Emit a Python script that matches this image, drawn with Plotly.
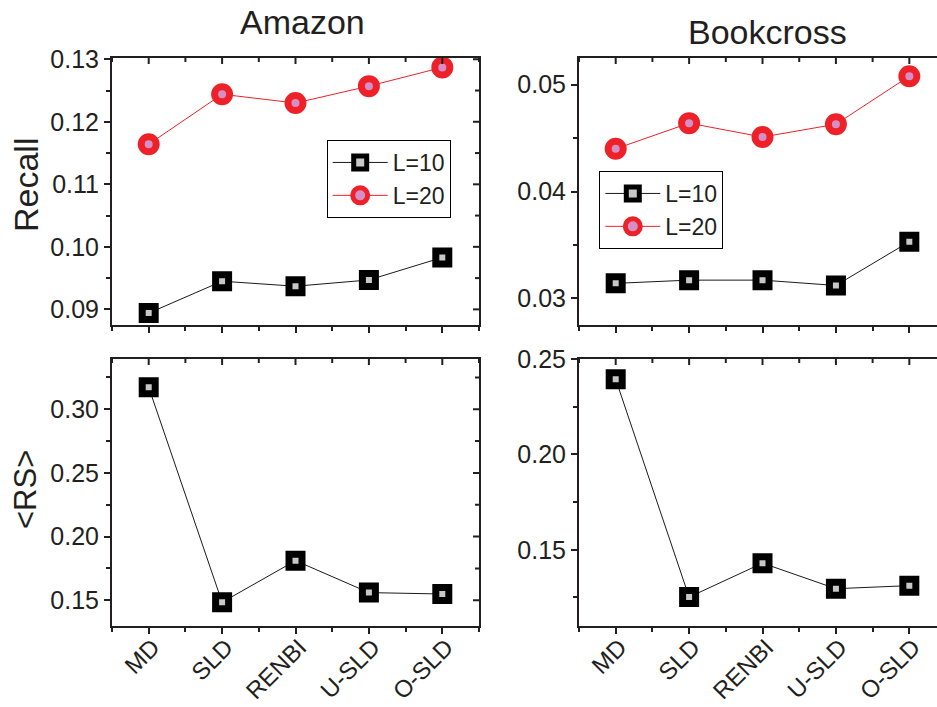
import plotly.graph_objects as go

# ---------------- data ----------------
methods = ["MD", "SLD", "RENBI", "U-SLD", "O-SLD"]
amazon_recall_L10 = [0.0894, 0.0945, 0.0937, 0.0947, 0.0983]
amazon_recall_L20 = [0.1164, 0.1244, 0.1230, 0.1257, 0.1287]
book_recall_L10 = [0.0314, 0.0317, 0.0317, 0.0312, 0.0353]
book_recall_L20 = [0.0440, 0.0464, 0.0451, 0.0463, 0.0508]
amazon_rs_L10 = [0.3173, 0.1484, 0.1811, 0.1560, 0.1549]
book_rs_L10 = [0.2394, 0.1252, 0.1430, 0.1296, 0.1312]
series_names = ["L=10", "L=20"]
panel_titles = ["Amazon", "Bookcross"]
row_titles = ["Recall", "&lt;RS&gt;"]

x_idx = list(range(len(methods)))

# ---------------- style ----------------
W, H = 937, 707
FONT = "Liberation Sans, Arial, Helvetica, sans-serif"
AX = "#231f20"
BLACK_LINE = "#1a1a1a"
RED = "#ee2128"
sq_marker = dict(symbol="square", size=13, color="#c8c8c8", line=dict(color="black", width=7))
ci_marker = dict(symbol="circle", size=15, color="#d58fc6", line=dict(color=RED, width=7))

def px_x(a, b):
    return [a / W, min(b / W, 1.0)]

def px_y(top, bottom):
    return [1 - bottom / H, 1 - top / H]

left_dom = px_x(112, 479)
right_dom = px_x(579, 937)
top_dom = px_y(58, 325)
bot_dom = px_y(359, 625.7)

fig = go.Figure()

def add_series(xa, ya, y, marker, color, name, legend, showlegend):
    fig.add_trace(go.Scatter(
        x=x_idx, y=y, xaxis=xa, yaxis=ya, mode="lines+markers",
        line=dict(color=color, width=1), marker=marker, name=name,
        legend=legend, showlegend=showlegend))

add_series("x", "y", amazon_recall_L10, sq_marker, BLACK_LINE, series_names[0], "legend", True)
add_series("x", "y", amazon_recall_L20, ci_marker, RED, series_names[1], "legend", True)
add_series("x2", "y2", book_recall_L10, sq_marker, BLACK_LINE, series_names[0], "legend2", True)
add_series("x2", "y2", book_recall_L20, ci_marker, RED, series_names[1], "legend2", True)
add_series("x3", "y3", amazon_rs_L10, sq_marker, BLACK_LINE, series_names[0], "legend", False)
add_series("x4", "y4", book_rs_L10, sq_marker, BLACK_LINE, series_names[0], "legend", False)

tickfont = dict(family=FONT, size=25, color=AX)
xtickfont = dict(family=FONT, size=24, color=AX)

def common():
    return dict(showgrid=False, zeroline=False, showline=True, linewidth=2, linecolor=AX,
                ticks="outside", ticklen=6, tickwidth=2, tickcolor=AX,
                automargin=False, fixedrange=True)

def x_main(domain, anchor, rng, labels):
    d = common()
    d.update(domain=domain, anchor=anchor, range=rng, tickmode="array", tickvals=x_idx,
             ticktext=methods, showticklabels=labels, tickangle=-45, tickfont=xtickfont,
             ticklabelstandoff=-10, ticklabelshift=4, mirror=True,
             minor=dict(ticks="outside", ticklen=4, tickwidth=2, tickcolor=AX, tick0=0, dtick=0.5))
    return d

def y_main(domain, anchor, rng, dtick, mdtick, mirror=True):
    d = common()
    d.update(domain=domain, anchor=anchor, range=rng, tick0=0, dtick=dtick, tickformat=".2f",
             tickfont=tickfont, mirror=mirror,
             minor=dict(ticks="outside", ticklen=4, tickwidth=2, tickcolor=AX, tick0=0, dtick=mdtick))
    return d

xr_full = [-0.5, 4.5]
xr_clip = [-0.5, 4.377]
yr_a_rec = [0.0875, 0.1302]
yr_b_rec = [0.0275, 0.0525]
yr_a_rs = [0.13, 0.3395]
yr_b_rs = [0.1102, 0.25]

legend_common = dict(xanchor="left", yanchor="top", bordercolor="black", borderwidth=1,
                     bgcolor="white", font=dict(family=FONT, size=23, color=AX), itemwidth=55,
                     tracegroupgap=0, itemsizing="trace")

layout = dict(
    template="none",
    width=W, height=H, margin=dict(l=0, r=0, t=0, b=0, pad=0, autoexpand=False),
    paper_bgcolor="white", plot_bgcolor="white",
    font=dict(family=FONT, color=AX),
    hovermode=False,
    xaxis=x_main(left_dom, "y", xr_full, False),
    yaxis=y_main(top_dom, "x", yr_a_rec, 0.01, 0.005),
    xaxis2=x_main(right_dom, "y2", xr_clip, False),
    yaxis2=y_main(top_dom, "x2", yr_b_rec, 0.01, 0.005, mirror=False),
    xaxis3=x_main(left_dom, "y3", xr_full, True),
    yaxis3=y_main(bot_dom, "x3", yr_a_rs, 0.05, 0.025),
    xaxis4=x_main(right_dom, "y4", xr_clip, True),
    yaxis4=y_main(bot_dom, "x4", yr_b_rs, 0.05, 0.025, mirror=False),
    legend=dict(x=326.7 / W, y=1 - 140 / H, **legend_common),
    legend2=dict(x=599.3 / W, y=1 - 171 / H, **legend_common),
    showlegend=True,
)
fig.update_layout(**layout)

# ---- top / right frame with inward ticks (Origin style), placed on the axes' own scales ----
def vals_in(rng, step, offset=0.0):
    out = []
    k = int((rng[0] - offset) // step) - 1
    while True:
        v = round(k * step + offset, 6)
        if v > rng[1]:
            break
        if v >= rng[0]:
            out.append(v)
        k += 1
    return out

LW_PAPER_X = 1.0 / W
LW_PAPER_Y = 1.0 / H

def frame(xid, yid, xdom, ydom, xr, yr, ystep, show_right):
    ln = dict(color=AX, width=2)
    top = ydom[1] + LW_PAPER_Y
    right_edge = xdom[1] + LW_PAPER_X
    fig.add_shape(type="line", xref="paper", yref="paper", x0=xdom[0] - 2 * LW_PAPER_X,
                  x1=min(right_edge + LW_PAPER_X, 1.0), y0=top, y1=top, line=ln, layer="above")
    for v in vals_in(xr, 1.0):
        fig.add_shape(type="line", xref=xid, yref="paper", x0=v, x1=v, y0=0, y1=-7,
                      ysizemode="pixel", yanchor=top, line=ln, layer="above")
    for v in vals_in(xr, 1.0, 0.5):
        fig.add_shape(type="line", xref=xid, yref="paper", x0=v, x1=v, y0=0, y1=-5,
                      ysizemode="pixel", yanchor=top, line=ln, layer="above")
    if show_right:
        fig.add_shape(type="line", xref="paper", yref="paper", x0=right_edge, x1=right_edge,
                      y0=ydom[0] - 2 * LW_PAPER_Y, y1=top + LW_PAPER_Y, line=ln, layer="above")
        for v in vals_in(yr, ystep):
            fig.add_shape(type="line", xref="paper", yref=yid, y0=v, y1=v, x0=0, x1=-7,
                          xsizemode="pixel", xanchor=right_edge, line=ln, layer="above")
        for v in vals_in(yr, ystep, ystep / 2):
            fig.add_shape(type="line", xref="paper", yref=yid, y0=v, y1=v, x0=0, x1=-5,
                          xsizemode="pixel", xanchor=right_edge, line=ln, layer="above")

frame("x", "y", left_dom, top_dom, xr_full, yr_a_rec, 0.01, True)
frame("x2", "y2", right_dom, top_dom, xr_clip, yr_b_rec, 0.01, False)
frame("x3", "y3", left_dom, bot_dom, xr_full, yr_a_rs, 0.05, True)
frame("x4", "y4", right_dom, bot_dom, xr_clip, yr_b_rs, 0.05, False)

# column titles
fig.add_annotation(text=panel_titles[0], x=302 / W, y=1 - 22 / H, xref="paper", yref="paper",
                   showarrow=False, xanchor="center", yanchor="middle",
                   font=dict(family=FONT, size=34, color=AX))
fig.add_annotation(text=panel_titles[1], x=767 / W, y=1 - 32 / H, xref="paper", yref="paper",
                   showarrow=False, xanchor="center", yanchor="middle",
                   font=dict(family=FONT, size=34, color=AX))
# row titles
fig.add_annotation(text=row_titles[0], x=26 / W, y=1 - 185 / H, xref="paper", yref="paper",
                   showarrow=False, xanchor="center", yanchor="middle", textangle=-90,
                   font=dict(family=FONT, size=34, color=AX))
fig.add_annotation(text=row_titles[1], x=26 / W, y=1 - 490 / H, xref="paper", yref="paper",
                   showarrow=False, xanchor="center", yanchor="middle", textangle=-90,
                   font=dict(family=FONT, size=31, color=AX))

fig.write_html("out.html", config={"displayModeBar": False},
               post_script="document.body.style.margin='0';document.body.style.overflow='hidden';")
